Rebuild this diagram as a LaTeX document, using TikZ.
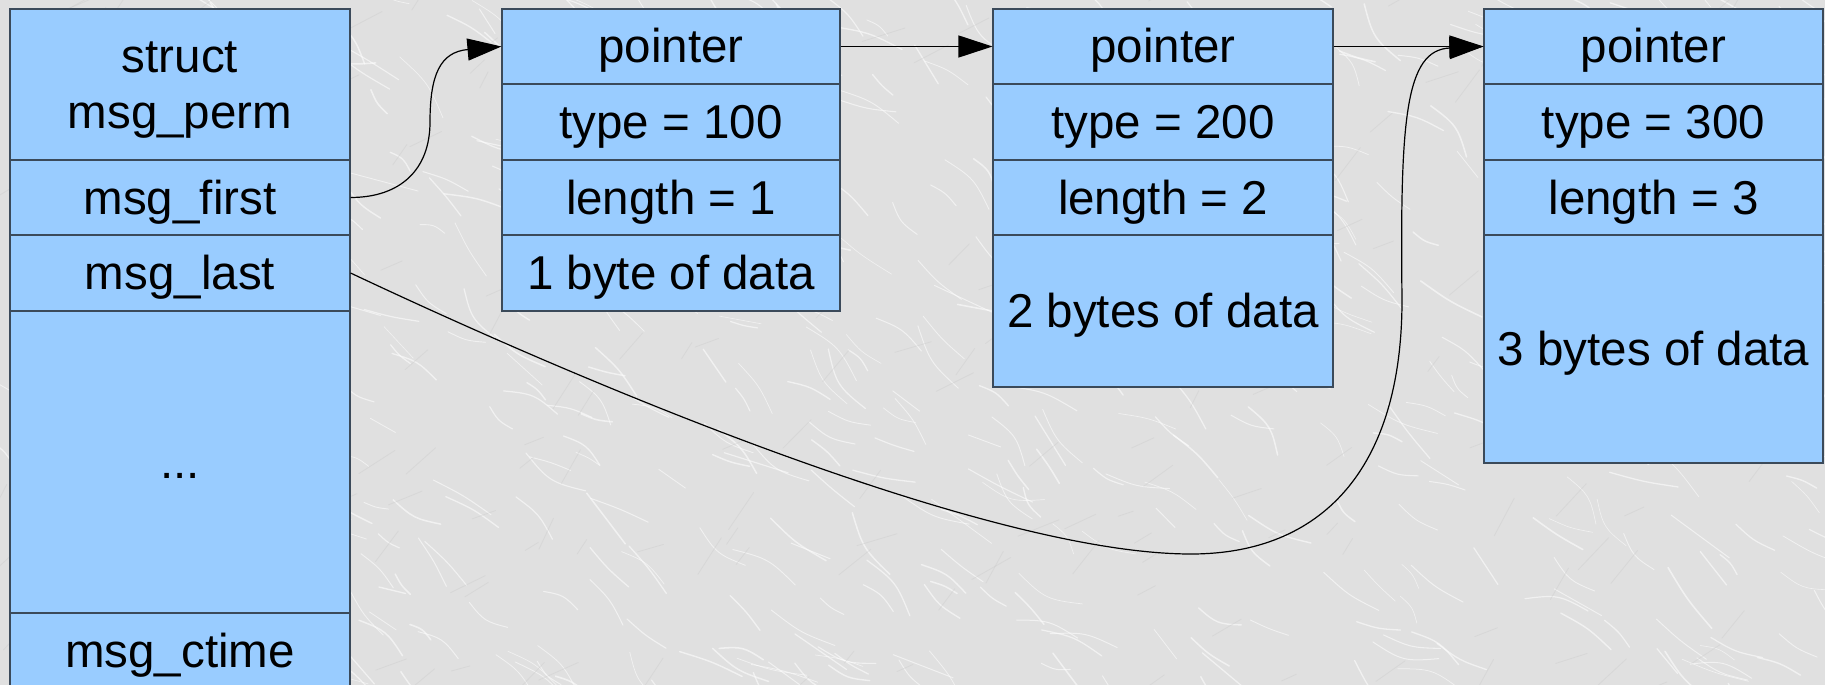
\documentclass[tikz,border=0pt]{standalone}
\usepackage{fontspec}
\setmainfont{Liberation Sans}
\usetikzlibrary{arrows.meta}
\definecolor{bg}{HTML}{E0E0E0}
\definecolor{cellfill}{HTML}{99CCFF}
\definecolor{cellline}{HTML}{3B4A5A}

\begin{document}
\begin{tikzpicture}[x=1pt,y=-1pt,
  cell/.style={draw=cellline,fill=cellfill,line width=1.1pt,
    inner sep=0pt,font=\fontsize{47.5}{55}\selectfont,
    text height=43pt,text depth=10pt},
  txt/.style={inner sep=0pt,font=\fontsize{47.5}{55}\selectfont,
    text height=43pt,text depth=10pt},
  link/.style={line width=1.2pt,-{Triangle[length=34pt,width=22pt]}},
  vein/.style={white,opacity=0.55,line cap=round},
  shade/.style={black!22,opacity=0.35,line cap=round},
]
\clip (0,0) rectangle (1825,685);
\fill[bg] (0,0) rectangle (1825,685);

% marble-like background: scattered light and dark veins
\pgfmathsetseed{4242}
\foreach \k in {1,...,650}{
  \pgfmathsetmacro\vx{rnd*1865-20}
  \pgfmathsetmacro\vy{rnd*725-20}
  \pgfmathsetmacro\va{35+rand*25}
  \pgfmathsetmacro\vl{25+rnd*50}
  \pgfmathsetmacro\vb{rand*20}
  \pgfmathsetmacro\vw{0.6+rnd*1.0}
  \draw[vein,line width=\vw pt] (\vx,\vy) .. controls +(\va+\vb:\vl/2) and +(\va+180-\vb:\vl/2) .. +(\va:\vl);
}
\foreach \k in {1,...,250}{
  \pgfmathsetmacro\vx{rnd*1865-20}
  \pgfmathsetmacro\vy{rnd*725-20}
  \pgfmathsetmacro\va{-40+rand*25}
  \pgfmathsetmacro\vl{15+rnd*30}
  \draw[shade,line width=0.8pt] (\vx,\vy) -- +(\va:\vl);
}

% struct msg_queue
\node[cell,minimum width=340pt,minimum height=151pt] (sHead) at (180,84.5) {};
\node[txt] (sHeadA) at (180,56.5) {struct};
\node[txt] (sHeadB) at (180,111.5) {msg\_perm};
\node[cell,minimum width=340pt,minimum height=75pt] (sFirst) at (180,197.5) {msg\_first};
\node[cell,minimum width=340pt,minimum height=76pt] (sLast) at (180,273) {msg\_last};
\node[cell,minimum width=340pt,minimum height=302pt] (sDots) at (180,462) {...};
\node[cell,minimum width=340pt,minimum height=76pt] (sCtime) at (180,651) {msg\_ctime};

% first message
\node[cell,minimum width=338pt,minimum height=75pt] (p1) at (671,46.5) {pointer};
\node[cell,minimum width=338pt,minimum height=76pt] (t1) at (671,122) {type = 100};
\node[cell,minimum width=338pt,minimum height=75pt] (l1) at (671,197.5) {length = 1};
\node[cell,minimum width=338pt,minimum height=76pt] (d1) at (671,273) {1 byte of data};

% second message
\node[cell,minimum width=340pt,minimum height=75pt] (p2) at (1163,46.5) {pointer};
\node[cell,minimum width=340pt,minimum height=76pt] (t2) at (1163,122) {type = 200};
\node[cell,minimum width=340pt,minimum height=75pt] (l2) at (1163,197.5) {length = 2};
\node[cell,minimum width=340pt,minimum height=152pt] (d2) at (1163,311) {2 bytes of data};

% third message
\node[cell,minimum width=339pt,minimum height=75pt] (p3) at (1653.5,46.5) {pointer};
\node[cell,minimum width=339pt,minimum height=76pt] (t3) at (1653.5,122) {type = 300};
\node[cell,minimum width=339pt,minimum height=75pt] (l3) at (1653.5,197.5) {length = 3};
\node[cell,minimum width=339pt,minimum height=228pt] (d3) at (1653.5,349) {3 bytes of data};

% links
\draw[link] (sFirst.east) .. controls (400,197.5) and (430,170) .. (430,122)
  .. controls (430,75) and (440,52) .. (p1.west);
\draw[link] (p1.east) -- (p2.west);
\draw[link] (p2.east) -- (p3.west);
\draw[link] (sLast.east) .. controls (622,401) and (1000,554) .. (1191,554)
  .. controls (1321,554) and (1402,470) .. (1402,300)
  .. controls (1400,120) and (1405,50) .. (p3.west);
\end{tikzpicture}
\end{document}
